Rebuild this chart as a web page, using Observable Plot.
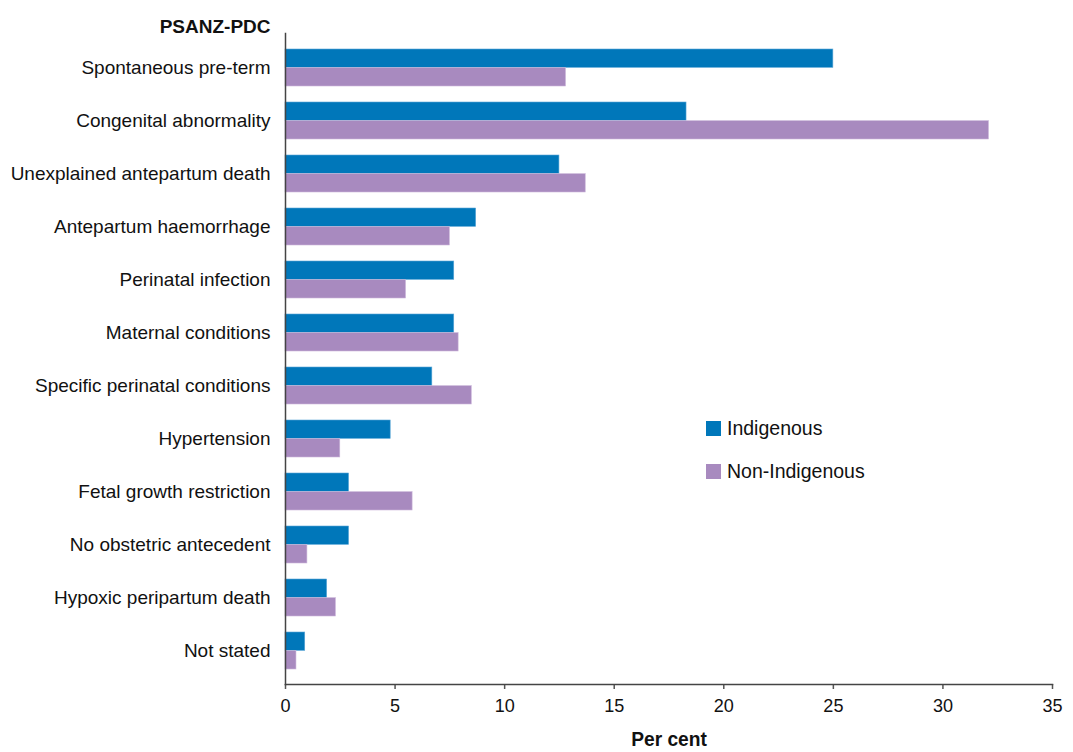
<!DOCTYPE html>
<html>
<head>
<meta charset="utf-8">
<script src="https://cdn.jsdelivr.net/npm/d3@7"></script>
<script src="https://cdn.jsdelivr.net/npm/@observablehq/plot@0.6"></script>
<style>
  body { margin: 0; background: #fff; font-family: "Liberation Sans", Arial, sans-serif; }
  #wrap { position: relative; width: 1073px; height: 752px; }
  .legend { position: absolute; left: 706px; font-size: 19.5px; color: #111; display: flex; align-items: center; line-height: 15px; }
  .legend span.sw { display: inline-block; width: 15px; height: 15px; margin-right: 6px; }
</style>
</head>
<body>
<div id="wrap"></div>
<script>
const categories = [
  "Spontaneous pre-term",
  "Congenital abnormality",
  "Unexplained antepartum death",
  "Antepartum haemorrhage",
  "Perinatal infection",
  "Maternal conditions",
  "Specific perinatal conditions",
  "Hypertension",
  "Fetal growth restriction",
  "No obstetric antecedent",
  "Hypoxic peripartum death",
  "Not stated"
];
const indigenous = [25.0, 18.3, 12.5, 8.7, 7.7, 7.7, 6.7, 4.8, 2.9, 2.9, 1.9, 0.9];
const nonIndigenous = [12.8, 32.1, 13.7, 7.5, 5.5, 7.9, 8.5, 2.5, 5.8, 1.0, 2.3, 0.5];
const seriesNames = ["Indigenous", "Non-Indigenous"];
const seriesColors = ["#0077BA", "#A88ABF"];
const xTicks = [0, 5, 10, 15, 20, 25, 30, 35];

const indRows = categories.map((c, i) => ({category: c, value: indigenous[i]}));
const nonRows = categories.map((c, i) => ({category: c, value: nonIndigenous[i]}));

const half = 18.65;
const chart = Plot.plot({
  width: 1073,
  height: 752,
  marginLeft: 285,
  marginRight: 21,
  marginTop: 33,
  marginBottom: 68,
  style: {fontFamily: "'Liberation Sans', Arial, sans-serif", background: "#fff"},
  x: {domain: [0, 35], ticks: xTicks, label: null},
  y: {domain: categories, paddingInner: 0.304, paddingOuter: 0.225, label: null},
  marks: [
    Plot.barX(indRows, {y: "category", x: "value", fill: seriesColors[0], insetBottom: half, insetTop: 0, stroke: "#5aa6d6", strokeWidth: 0.6}),
    Plot.barX(nonRows, {y: "category", x: "value", fill: seriesColors[1], insetTop: half, insetBottom: 0, stroke: "#cbb6da", strokeWidth: 0.6}),
    Plot.axisY({tickSize: 0, tickPadding: 15, fontSize: 19, label: null, color: "#111"}),
    Plot.axisX({ticks: xTicks, tickSize: 5, tickPadding: 9, fontSize: 19, label: null, color: "#111", stroke: "#555", strokeWidth: 1.5}),
    Plot.frame({anchor: "left", stroke: "#444", strokeWidth: 1.5}),
    Plot.frame({anchor: "bottom", stroke: "#444", strokeWidth: 1.5}),
    Plot.text(["PSANZ-PDC"], {frameAnchor: "top-left", dx: -15, dy: -14, textAnchor: "end", fontWeight: "bold", fontSize: 19, fill: "#111"}),
    Plot.text(["Per cent"], {frameAnchor: "bottom", dy: 61, fontWeight: "bold", fontSize: 20, fill: "#111", className: "xlabel"})
  ]
});
const wrap = document.getElementById("wrap");
wrap.appendChild(chart);

// slightly condense the x-axis texts horizontally around their own centre
const svgRect = chart.getBoundingClientRect();
function condense(nodes, s) {
  nodes.forEach(t => {
    const r = t.getBoundingClientRect();
    const cx = r.left + r.width / 2 - svgRect.left;
    const g = document.createElementNS("http://www.w3.org/2000/svg", "g");
    g.setAttribute("transform", `translate(${cx},0) scale(${s},1) translate(${-cx},0)`);
    t.parentNode.insertBefore(g, t);
    g.appendChild(t);
  });
}
condense([...chart.querySelectorAll('g[aria-label="x-axis tick label"] text')], 0.95);
condense([...chart.querySelectorAll('.xlabel text, text.xlabel')], 0.96);

const legendTops = [421, 464];
seriesNames.forEach((name, i) => {
  const d = document.createElement("div");
  d.className = "legend";
  d.style.top = legendTops[i] + "px";
  const sw = document.createElement("span");
  sw.className = "sw";
  sw.style.background = seriesColors[i];
  d.appendChild(sw);
  d.appendChild(document.createTextNode(name));
  wrap.appendChild(d);
});
</script>
</body>
</html>
